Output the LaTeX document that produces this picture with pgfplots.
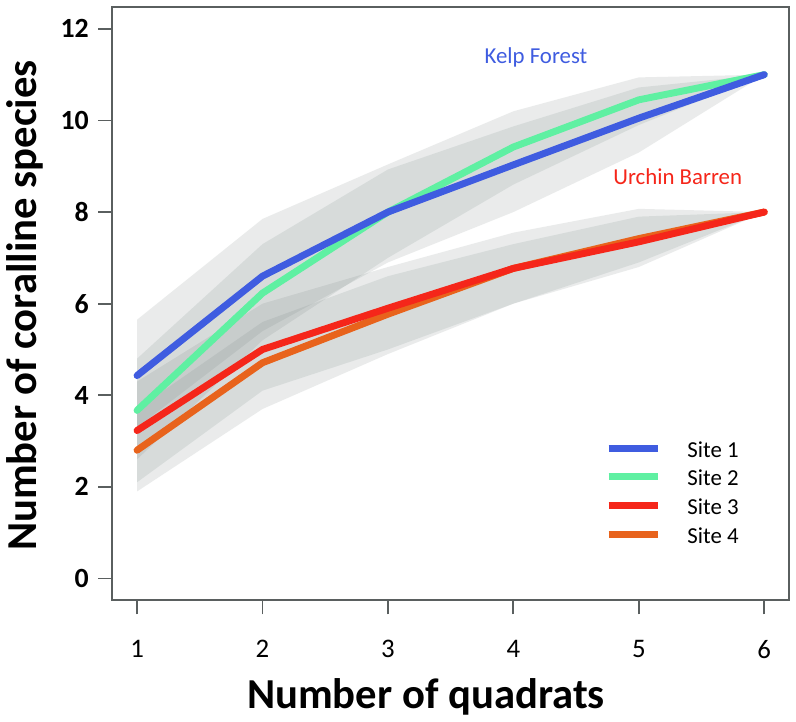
\documentclass[border=0pt]{standalone}
\usepackage{fontspec}
\setmainfont{Carlito}
\usepackage{pgfplots}
\pgfplotsset{compat=1.18}
\usepgfplotslibrary{fillbetween}

\definecolor{siteA}{HTML}{3F5CE0}
\definecolor{siteB}{HTML}{5FF0A2}
\definecolor{siteC}{HTML}{F5261A}
\definecolor{siteD}{HTML}{E8631C}
\definecolor{band}{HTML}{6F7C7A}
\definecolor{axgray}{HTML}{5A5F5F}

\begin{document}
\begin{tikzpicture}
\begin{axis}[
    scale only axis,
    width=341.2pt, height=299pt,
    xmin=0.8, xmax=6.2, ymin=-0.48, ymax=12.48,
    xtick={1,...,6}, ytick={0,2,...,12},
    xtick pos=bottom, ytick pos=left,
    tick align=outside, major tick length=7pt,
    tick style={axgray, line width=0.9pt},
    axis line style={axgray, line width=1pt},
    /pgf/number format/assume math mode=true,
    xticklabel style={font=\fontsize{13.5}{14}\selectfont, inner sep=0pt, yshift=-13pt},
    yticklabel style={font=\fontsize{14}{15}\selectfont\bfseries, inner sep=0pt, xshift=-4.5pt},
    xlabel={Number of quadrats},
    ylabel={Number of coralline species},
    label style={font=\fontsize{21.5}{23}\selectfont\bfseries},
    xlabel style={at={(rel axis cs:0.4636,0)}, anchor=base, yshift=-54.5pt},
    ylabel style={at={(rel axis cs:-0.1285,0.497)}, anchor=center},
    clip=false,
    legend cell align=left,
    legend style={draw=none, fill=none, at={(axis cs:4.68,3.09)}, anchor=north west,
        font=\fontsize{11.5}{12}\selectfont, row sep=6.45pt,
        nodes={inner sep=0pt, text height=8pt, text depth=0pt},
        /tikz/every odd column/.append style={column sep=13pt}},
    legend image code/.code={\draw[#1] (0pt,0.6pt) -- (25pt,0.6pt);},
]
% invisible frame matching the full image
\path (axis cs:-0.0443,-3.08) rectangle (axis cs:6.253,12.63);

% confidence bands
\addplot[draw=none, name path=u1, forget plot] coordinates {(1,5.65) (2,7.85) (3,9.04) (4,10.2) (5,10.94) (6,11)};
\addplot[draw=none, name path=l1, forget plot] coordinates {(1,3.3) (2,5.4) (3,6.9) (4,8.0) (5,9.3) (6,11)};
\addplot[band, fill opacity=0.15, draw=none, forget plot] fill between[of=u1 and l1];
\addplot[draw=none, name path=u2, forget plot] coordinates {(1,4.8) (2,7.3) (3,8.93) (4,9.87) (5,10.72) (6,11)};
\addplot[draw=none, name path=l2, forget plot] coordinates {(1,2.6) (2,5.2) (3,7.0) (4,8.6) (5,9.9) (6,11)};
\addplot[band, fill opacity=0.15, draw=none, forget plot] fill between[of=u2 and l2];
\addplot[draw=none, name path=u3, forget plot] coordinates {(1,4.3) (2,6.0) (3,6.8) (4,7.55) (5,8.07) (6,8)};
\addplot[draw=none, name path=l3, forget plot] coordinates {(1,2.1) (2,4.1) (3,5.0) (4,6.0) (5,6.9) (6,8)};
\addplot[band, fill opacity=0.15, draw=none, forget plot] fill between[of=u3 and l3];
\addplot[draw=none, name path=u4, forget plot] coordinates {(1,3.7) (2,5.6) (3,6.6) (4,7.3) (5,7.9) (6,8)};
\addplot[draw=none, name path=l4, forget plot] coordinates {(1,1.9) (2,3.7) (3,4.9) (4,6.0) (5,6.8) (6,8)};
\addplot[band, fill opacity=0.15, draw=none, forget plot] fill between[of=u4 and l4];

% rarefaction curves
\addplot[siteB, line width=3.5pt, line cap=round, forget plot] coordinates {(1,3.67) (2,6.23) (3,8.0) (4,9.42) (5,10.45) (6,11.0)};
\addplot[siteA, line width=3.5pt, line cap=round, forget plot] coordinates {(1,4.43) (2,6.6) (3,8.0) (4,9.03) (5,10.05) (6,11.0)};
\addplot[siteD, line width=3.5pt, line cap=round, forget plot] coordinates {(1,2.8) (2,4.71) (3,5.77) (4,6.77) (5,7.42) (6,8.0)};
\addplot[siteC, line width=3.5pt, line cap=round, forget plot] coordinates {(1,3.23) (2,5.0) (3,5.9) (4,6.77) (5,7.35) (6,8.0)};

\addlegendimage{siteA, line width=3.5pt}
\addlegendentry{Site 1}
\addlegendimage{siteB, line width=3.5pt}
\addlegendentry{Site 2}
\addlegendimage{siteC, line width=3.5pt}
\addlegendentry{Site 3}
\addlegendimage{siteD, line width=3.5pt}
\addlegendentry{Site 4}

\node[font=\fontsize{11.5}{12}\selectfont, text=siteA] at (axis cs:4.18,11.37) {Kelp Forest};
\node[font=\fontsize{11.5}{12}\selectfont, text=siteC] at (axis cs:5.31,8.77) {Urchin Barren};
\end{axis}
\end{tikzpicture}
\end{document}
